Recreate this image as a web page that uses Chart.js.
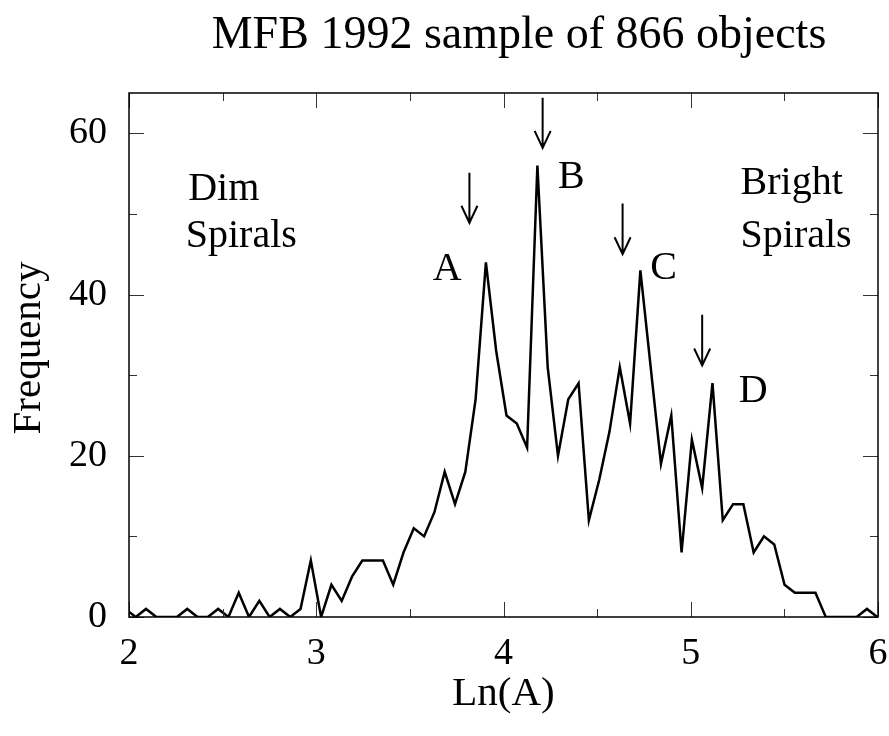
<!DOCTYPE html>
<html>
<head>
<meta charset="utf-8">
<title>MFB 1992 sample of 866 objects</title>
<script src="https://cdn.jsdelivr.net/npm/chart.js@4.4.1/dist/chart.umd.min.js"></script>
<style>
  html, body { margin: 0; padding: 0; background: #fff; }
  #wrap { width: 889px; height: 736px; }
</style>
</head>
<body>
<div id="wrap"><canvas id="histChart" width="889" height="736"></canvas></div>
<script>
// Histogram bins in Ln(A): centre of the first bin and bin width
const binStart = 1.981;
const binWidth = 0.055;

// Frequency per bin (first bin sits just left of 2)
const frequencies = [1, 0, 1, 0, 0, 0, 1, 0, 0, 1, 0, 3, 0, 2, 0, 1, 0, 1,
    7, 0, 4, 2, 5, 7, 7, 7, 4, 8, 11, 10, 13,
    18, 14, 18, 27, 44, 33, 25, 24, 21, 56,
    31, 20, 27, 29, 12, 17, 23, 31, 24, 43,
    31, 19, 25, 8, 22, 16, 29, 12, 14, 14,
    8, 10, 9, 4, 3, 3, 3, 0, 0, 0, 0, 1, 0];

// Tick values
const xMajorTicks = [2, 3, 4, 5, 6];
const xMinorTicks = [2.5, 3.5, 4.5, 5.5];
const yMajorTicks = [0, 20, 40, 60];
const yMinorTicks = [10, 30, 50];

// Text labels inside the plot, placed in data units (left edge, baseline)
const noteTexts = ["Dim", "Spirals", "A", "B", "C", "D", "Bright", "Spirals"];
const noteX = [2.316, 2.303, 3.622, 4.291, 4.784, 5.257, 5.266, 5.266];
const noteY = [51.7, 45.9, 41.8, 53.2, 41.9, 26.7, 52.5, 45.9];

// Down arrows above the peaks: x, top and tip in data units
const arrowX = [3.818, 4.209, 4.636, 5.061];
const arrowTop = [55.1, 64.4, 51.3, 37.5];
const arrowTip = [48.9, 58.2, 45.0, 31.2];

const serif = "'Liberation Serif', 'Times New Roman', serif";

// Build the points of the histogram line
function buildPoints() {
    return frequencies.map((f, i) => ({ x: binStart + i * binWidth, y: f }));
}

// Plugin that draws the frame, inward ticks, title, axis titles and notes
const decorations = {
    id: "decorations",
    afterDraw(chart) {
        const ctx = chart.ctx;
        const area = chart.chartArea;
        const xs = chart.scales.x;
        const ys = chart.scales.y;

        ctx.save();

        // tick marks on all four sides
        ctx.strokeStyle = "#333";
        ctx.lineWidth = 1;
        function vTick(v, len) {
            const px = Math.round(xs.getPixelForValue(v)) + 0.5;
            ctx.beginPath();
            ctx.moveTo(px, area.bottom);
            ctx.lineTo(px, area.bottom - len);
            ctx.moveTo(px, area.top);
            ctx.lineTo(px, area.top + len);
            ctx.stroke();
        }
        function hTick(v, len) {
            const py = Math.round(ys.getPixelForValue(v)) + 0.5;
            ctx.beginPath();
            ctx.moveTo(area.left, py);
            ctx.lineTo(area.left + len, py);
            ctx.moveTo(area.right, py);
            ctx.lineTo(area.right - len, py);
            ctx.stroke();
        }
        xMajorTicks.forEach(v => vTick(v, 15));
        xMinorTicks.forEach(v => vTick(v, 8));
        yMajorTicks.forEach(v => hTick(v, 15));
        yMinorTicks.forEach(v => hTick(v, 8));

        // frame
        ctx.strokeStyle = "#000";
        ctx.lineWidth = 1.5;
        ctx.strokeRect(area.left, area.top, area.right - area.left, area.bottom - area.top);

        // title
        ctx.fillStyle = "#000";
        ctx.textAlign = "center";
        ctx.textBaseline = "alphabetic";
        ctx.font = "46px " + serif;
        ctx.fillText("MFB 1992 sample of 866 objects", 519, 48);

        // axis titles
        ctx.font = "41px " + serif;
        ctx.fillText("Ln(A)", (area.left + area.right) / 2, 705);
        ctx.save();
        ctx.translate(40, 348);
        ctx.rotate(-Math.PI / 2);
        ctx.fillText("Frequency", 0, 0);
        ctx.restore();

        // notes
        ctx.textAlign = "left";
        ctx.font = "40px " + serif;
        noteTexts.forEach((t, i) => {
            ctx.fillText(t, xs.getPixelForValue(noteX[i]), ys.getPixelForValue(noteY[i]));
        });

        // arrows
        ctx.lineWidth = 2;
        arrowX.forEach((v, i) => {
            const px = xs.getPixelForValue(v);
            const top = ys.getPixelForValue(arrowTop[i]);
            const tip = ys.getPixelForValue(arrowTip[i]);
            ctx.beginPath();
            ctx.moveTo(px, top);
            ctx.lineTo(px, tip);
            ctx.moveTo(px - 8, tip - 17);
            ctx.lineTo(px, tip);
            ctx.lineTo(px + 8, tip - 17);
            ctx.stroke();
        });

        ctx.restore();
    }
};

// Setup the chart
function setupChart() {
    const ctx = document.getElementById("histChart").getContext("2d");
    new Chart(ctx, {
        type: "line",
        data: {
            datasets: [{
                data: buildPoints(),
                borderColor: "#000",
                borderWidth: 2.5,
                pointRadius: 0,
                tension: 0,
                fill: false
            }]
        },
        options: {
            responsive: false,
            animation: false,
            layout: { padding: { top: 93, right: 11, left: 0, bottom: 0 } },
            plugins: {
                legend: { display: false },
                tooltip: { enabled: false },
                title: { display: false }
            },
            scales: {
                x: {
                    type: "linear",
                    min: 2,
                    max: 6,
                    afterBuildTicks: axis => { axis.ticks = xMajorTicks.map(v => ({ value: v })); },
                    afterFit: axis => {
                        axis.height = 119;
                        axis.paddingLeft = 0;
                        axis.paddingRight = 0;
                    },
                    grid: { display: false, drawTicks: false },
                    border: { display: false },
                    ticks: {
                        color: "#000",
                        padding: 14,
                        maxRotation: 0,
                        font: { family: serif, size: 38 }
                    }
                },
                y: {
                    min: 0,
                    max: 65,
                    afterBuildTicks: axis => { axis.ticks = yMajorTicks.map(v => ({ value: v })); },
                    afterFit: axis => {
                        axis.width = 129;
                        axis.paddingTop = 0;
                        axis.paddingBottom = 0;
                    },
                    grid: { display: false, drawTicks: false },
                    border: { display: false },
                    ticks: {
                        color: "#000",
                        padding: 22,
                        font: { family: serif, size: 38 }
                    }
                }
            }
        },
        plugins: [decorations]
    });
}

document.addEventListener("DOMContentLoaded", setupChart);
</script>
</body>
</html>
